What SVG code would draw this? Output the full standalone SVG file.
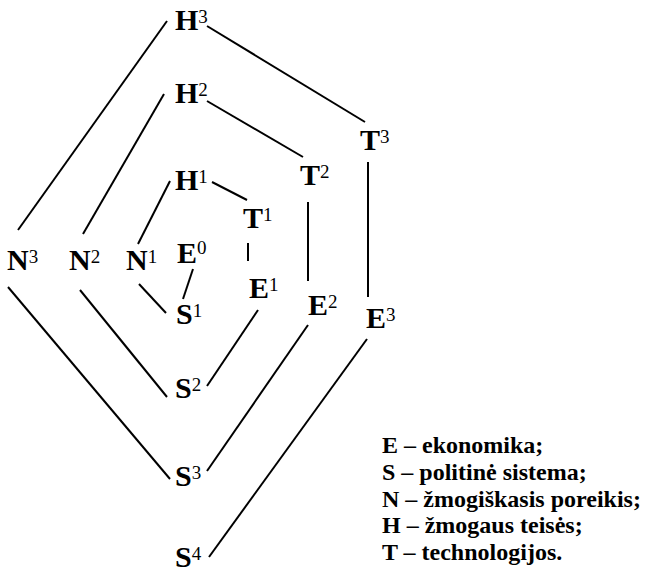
<svg xmlns="http://www.w3.org/2000/svg" width="648" height="572" viewBox="0 0 648 572">
  <style>
    .lbl { font-family: "Liberation Serif", "Times New Roman", serif; font-weight: bold; font-size: 30px; fill: #000; }
    .sup { font-size: 19px; font-weight: normal; }
    .legend { font-family: "Liberation Serif", "Times New Roman", serif; font-weight: bold; font-size: 24px; fill: #000; }
    .conn line { stroke: #000; stroke-width: 2; stroke-linecap: butt; }
  </style>
  <rect width="648" height="572" fill="#fff"/>

  <!-- connectors -->
  <g class="conn" id="connectors">
    <!-- outer ring -->
    <line x1="167" y1="21" x2="18" y2="230"/>
    <line x1="207" y1="26" x2="365" y2="122"/>
    <line x1="368" y1="162" x2="368" y2="297"/>
    <line x1="367" y1="339" x2="209" y2="557"/>
    <line x1="8" y1="287" x2="170" y2="479"/>
    <!-- middle ring -->
    <line x1="164" y1="94" x2="83" y2="234"/>
    <line x1="207" y1="101" x2="303" y2="157"/>
    <line x1="308" y1="202" x2="308" y2="281"/>
    <line x1="308" y1="325" x2="207" y2="471"/>
    <line x1="80" y1="290" x2="167" y2="397"/>
    <!-- inner ring -->
    <line x1="170" y1="181" x2="138" y2="244"/>
    <line x1="212" y1="182" x2="247" y2="200"/>
    <line x1="248" y1="243" x2="248" y2="261"/>
    <line x1="258" y1="310" x2="207" y2="386"/>
    <line x1="139" y1="284" x2="166" y2="313"/>
    <line x1="193" y1="269" x2="183" y2="299"/>
  </g>

  <!-- nodes -->
  <g id="H3"><text class="lbl" x="175" y="30">H<tspan class="sup" dy="-7">3</tspan></text></g>
  <g id="H2"><text class="lbl" x="175" y="103">H<tspan class="sup" dy="-7">2</tspan></text></g>
  <g id="H1"><text class="lbl" x="175" y="190">H<tspan class="sup" dy="-7">1</tspan></text></g>
  <g id="T3"><text class="lbl" x="360" y="150">T<tspan class="sup" dy="-7">3</tspan></text></g>
  <g id="T2"><text class="lbl" x="300" y="185">T<tspan class="sup" dy="-7">2</tspan></text></g>
  <g id="T1"><text class="lbl" x="243" y="228">T<tspan class="sup" dy="-7">1</tspan></text></g>
  <g id="N3"><text class="lbl" x="7" y="270">N<tspan class="sup" dy="-7">3</tspan></text></g>
  <g id="N2"><text class="lbl" x="69" y="270">N<tspan class="sup" dy="-7">2</tspan></text></g>
  <g id="N1"><text class="lbl" x="126" y="270">N<tspan class="sup" dy="-7">1</tspan></text></g>
  <g id="E0"><text class="lbl" x="177" y="263">E<tspan class="sup" dy="-9" font-weight="bold">0</tspan></text></g>
  <g id="E1"><text class="lbl" x="249" y="298">E<tspan class="sup" dy="-7">1</tspan></text></g>
  <g id="E2"><text class="lbl" x="308" y="315">E<tspan class="sup" dy="-7">2</tspan></text></g>
  <g id="E3"><text class="lbl" x="366" y="328">E<tspan class="sup" dy="-7">3</tspan></text></g>
  <g id="S1"><text class="lbl" x="176" y="324">S<tspan class="sup" dy="-7">1</tspan></text></g>
  <g id="S2"><text class="lbl" x="175" y="398">S<tspan class="sup" dy="-7">2</tspan></text></g>
  <g id="S3"><text class="lbl" x="175" y="486">S<tspan class="sup" dy="-7">3</tspan></text></g>
  <g id="S4"><text class="lbl" x="175" y="567">S<tspan class="sup" dy="-7">4</tspan></text></g>

  <!-- legend -->
  <g id="legend" class="legend">
    <text x="382" y="453">E – ekonomika;</text>
    <text x="382" y="480">S – politinė sistema;</text>
    <text x="382" y="507">N – žmogiškasis poreikis;</text>
    <text x="382" y="533">H – žmogaus teisės;</text>
    <text x="382" y="560">T – technologijos.</text>
  </g>
</svg>
